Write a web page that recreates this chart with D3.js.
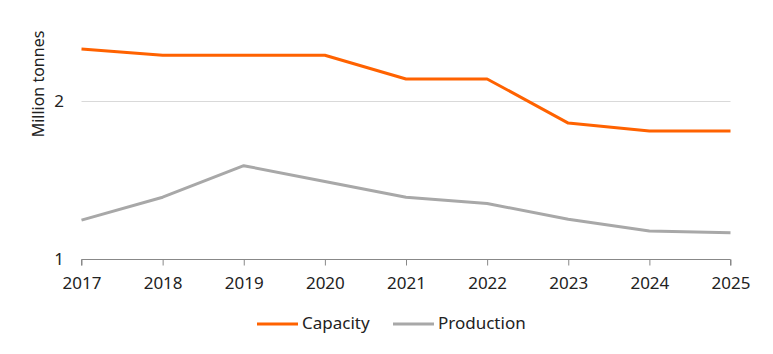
<!DOCTYPE html>
<html><head><meta charset="utf-8">
<script src="https://cdn.jsdelivr.net/npm/d3@7"></script>
<style>body{margin:0;background:#fff;font-family:"Noto Sans","Open Sans",sans-serif;}</style>
</head><body><svg id="c" width="773" height="354"></svg>
<script>
const years = ["2017","2018","2019","2020","2021","2022","2023","2024","2025"];
const capacity = [2.33, 2.29, 2.29, 2.29, 2.14, 2.14, 1.86, 1.81, 1.81];
const production = [1.245, 1.39, 1.59, 1.49, 1.39, 1.35, 1.25, 1.175, 1.165];
const yTicks = [1, 2];
const seriesNames = ["Capacity", "Production"];
const colors = ["#FF6200", "#A8A8A8"];

const svg = d3.select("#c");
const x = d3.scalePoint().domain(years).range([81.5, 730.5]);
const y = d3.scaleLinear().domain([1, 2.5]).range([258.7, 22.2]);

// gridlines
svg.append("g").selectAll("line").data(yTicks.filter(d => d !== 1)).join("line")
  .attr("x1", 81.5).attr("x2", 730.5)
  .attr("y1", d => Math.round(y(d)) + 0.5).attr("y2", d => Math.round(y(d)) + 0.5)
  .attr("stroke", "#d9d9d9").attr("stroke-width", 1);

// y labels
svg.append("g").selectAll("text").data(yTicks).join("text")
  .attr("x", 64).attr("y", d => y(d)).attr("dy", "0.35em")
  .attr("text-anchor", "end").attr("font-size", 17).attr("fill", "#222")
  .text(d => d);

// x axis
const xAxis = svg.append("g").attr("transform", `translate(0,${Math.round(y(1)) + 0.5})`)
  .call(d3.axisBottom(x).tickSize(6).tickPadding(11));
xAxis.select(".domain").attr("stroke", "#888").attr("d", `M81.5,6V0H730.5V6`);
xAxis.selectAll(".tick line").attr("stroke", "#888");
xAxis.selectAll("text").attr("font-size", 17).attr("fill", "#222")
  .attr("font-family", "'Noto Sans','Open Sans',sans-serif");

// axis title
svg.append("text").attr("transform", "translate(44,84) rotate(-90)")
  .attr("text-anchor", "middle").attr("font-size", 16).attr("fill", "#222")
  .text("Million tonnes");

// lines
const line = d3.line().x((d, i) => x(years[i])).y(d => y(d));
[capacity, production].forEach((s, k) => {
  svg.append("path").datum(s).attr("d", line).attr("fill", "none")
    .attr("stroke", colors[k]).attr("stroke-width", 3).attr("stroke-linejoin", "round");
});

// legend
const legend = [{x: 257, tx: 302}, {x: 393, tx: 438}];
seriesNames.forEach((n, k) => {
  svg.append("line").attr("x1", legend[k].x).attr("x2", legend[k].x + 41)
    .attr("y1", 324).attr("y2", 324).attr("stroke", colors[k]).attr("stroke-width", 3);
  svg.append("text").attr("x", legend[k].tx).attr("y", 323).attr("dy", "0.35em")
    .attr("font-size", 17).attr("fill", "#222").text(n);
});
</script></body></html>
